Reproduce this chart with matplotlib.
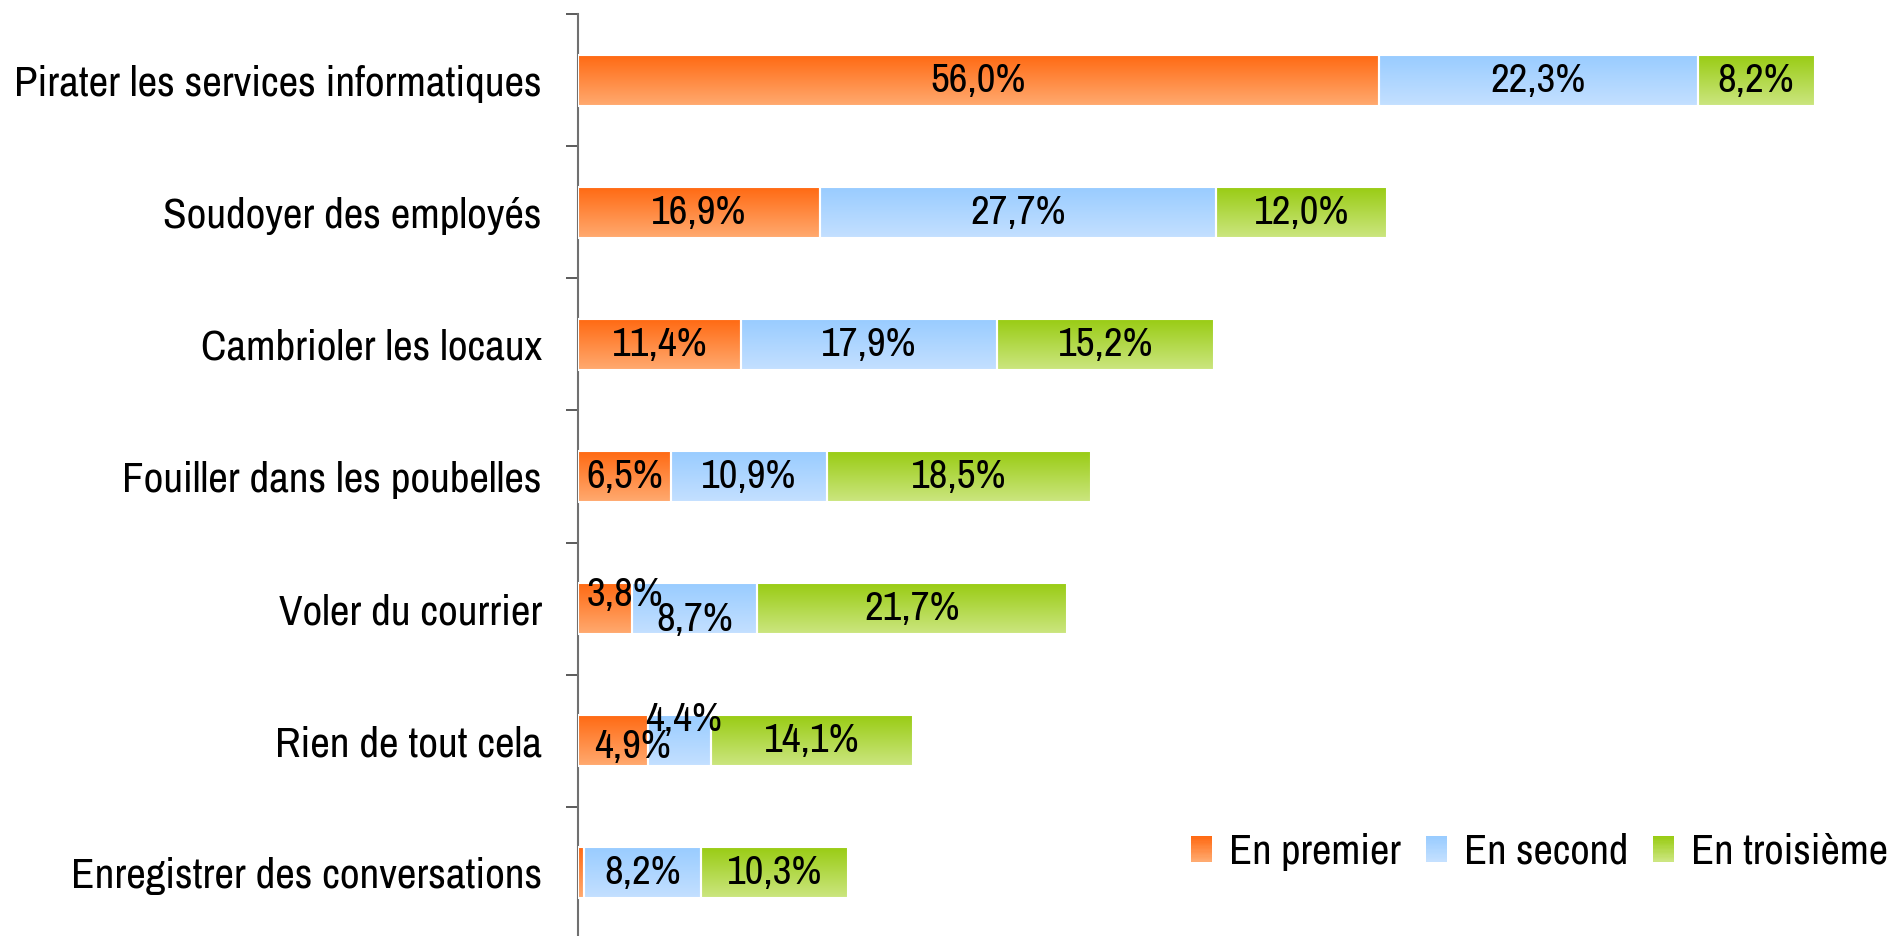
import numpy as np
import matplotlib
matplotlib.use('Agg')
import matplotlib.pyplot as plt
from matplotlib.patches import Rectangle
from matplotlib.legend_handler import HandlerBase
from matplotlib.colors import to_rgb

# data
categories = ['Pirater les services informatiques', 'Soudoyer des employés', 'Cambrioler les locaux',
              'Fouiller dans les poubelles', 'Voler du courrier', 'Rien de tout cela',
              'Enregistrer des conversations']
premier = [56.0, 16.9, 11.4, 6.5, 3.8, 4.9, 0.4]
second = [22.3, 27.7, 17.9, 10.9, 8.7, 4.4, 8.2]
troisieme = [8.2, 12.0, 15.2, 18.5, 21.7, 14.1, 10.3]
series_names = ['En premier', 'En second', 'En troisième']
show_label = [[True] * 7, [True] * 7, [True] * 7]
show_label[0][6] = False

plt.rcParams['font.family'] = ['Archivo Narrow', 'Liberation Sans', 'DejaVu Sans']

grads = [('#FF6A13', '#FFAA70'), ('#99CCFF', '#C4E0FF'), ('#99CC14', '#CCE680')]

# label nudges (points) for the crowded small segments
nudge = {(0, 4): (14, 10), (1, 4): (0, -8), (1, 5): (3, 15), (0, 5): (14, -4)}

fig = plt.figure(figsize=(18.92, 9.36), dpi=100)
ax = fig.add_axes([578 / 1892, (936 - 939) / 936, 1 - 578 / 1892, 925 / 936])

y = np.arange(len(categories))
left = np.zeros(len(categories))
for s, vals in enumerate([premier, second, troisieme]):
    top, bot = grads[s]
    grad = np.linspace(0, 1, 64)[:, None, None]
    img = (1 - grad) * np.array(to_rgb(top)) + grad * np.array(to_rgb(bot))
    bars = ax.barh(y, vals, left=left, height=0.385, color='none', edgecolor='white', linewidth=1.5, zorder=3)
    for i, b in enumerate(bars):
        x0, y0 = b.get_x(), b.get_y()
        w, h = b.get_width(), b.get_height()
        im = ax.imshow(img, extent=[x0, x0 + w, y0 + h, y0], aspect='auto', zorder=2, interpolation='bilinear')
        im.set_clip_path(b)
        if show_label[s][i]:
            dx, dy = nudge.get((s, i), (0, 0))
            ax.annotate(f'{vals[i]:.1f}%'.replace('.', ','), (x0 + w / 2, y[i]), xytext=(dx, dy),
                        textcoords='offset points', ha='center', va='center', fontsize=29.5, zorder=5)
    left = left + np.array(vals)

ax.set_xlim(0, 91.9)
ax.set_ylim(len(categories) - 0.5, -0.5)
ax.set_yticks(y)
ax.set_yticklabels(categories, fontsize=31)
ax.tick_params(axis='y', which='major', length=0, pad=26)
ax.set_yticks(np.arange(-0.5, len(categories)), minor=True)
ax.tick_params(axis='y', which='minor', length=9, width=1.2, color='#404040', direction='out')
ax.set_xticks([])
for sp in ['top', 'right', 'bottom']:
    ax.spines[sp].set_visible(False)
ax.spines['left'].set_color('#707070')
ax.spines['left'].set_linewidth(1.5)


class GradHandler(HandlerBase):
    def __init__(self, top, bot):
        super().__init__()
        self.top = np.array(to_rgb(top))
        self.bot = np.array(to_rgb(bot))

    def create_artists(self, legend, orig_handle, xdescent, ydescent, width, height, fontsize, trans):
        n = 20
        arts = []
        for k in range(n):
            c = self.top + (self.bot - self.top) * k / (n - 1)
            arts.append(Rectangle((-xdescent, -ydescent + height * (1 - (k + 1) / n)), width, height / n * 1.05,
                                  facecolor=c, edgecolor='none', transform=trans))
        return arts


handles = [Rectangle((0, 0), 1, 1) for _ in range(3)]
leg = fig.legend(handles, series_names, loc='center right', bbox_to_anchor=(1.0, 1 - 852 / 936), ncol=3,
                 frameon=False, fontsize=30.5, handlelength=0.5, handleheight=0.55, handletextpad=0.4,
                 columnspacing=0.58, borderaxespad=0.0, borderpad=0.1,
                 handler_map={handles[i]: GradHandler(*grads[i]) for i in range(3)})

plt.savefig('out.png', dpi=100)
